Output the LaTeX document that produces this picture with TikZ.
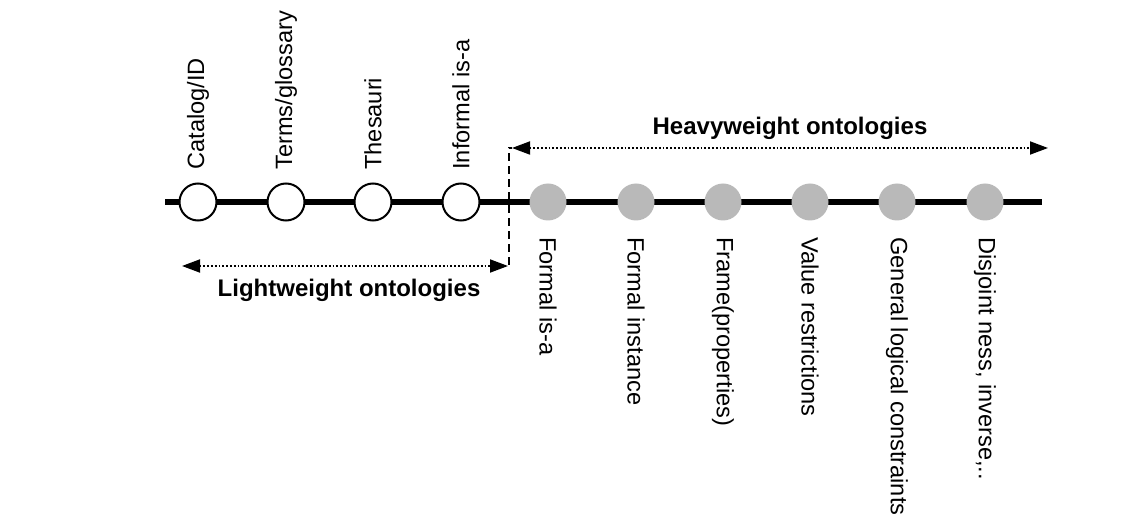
\documentclass[tikz,border=0pt]{standalone}
\usepackage{fontspec}
\setmainfont{Liberation Sans}
\usetikzlibrary{arrows.meta}
\begin{document}
\begin{tikzpicture}[x=0.5pt,y=-0.5pt,
  every node/.style={font=\fontsize{11.8}{14}\selectfont},
  opendot/.style={circle,draw=black,line width=1pt,fill=white,minimum size=18.5pt,inner sep=0pt},
  graydot/.style={circle,fill=gray!55!white,minimum size=18.5pt,inner sep=0pt},
  uplabel/.style={rotate=90,anchor=west,inner sep=0pt},
  downlabel/.style={rotate=-90,anchor=west,inner sep=0pt},
  rangearrow/.style={line width=0.9pt,densely dotted,{Triangle[length=9pt,width=6.5pt]}-{Triangle[length=9pt,width=6.5pt]}},
  title/.style={font=\fontsize{12}{14}\selectfont\bfseries}]
\useasboundingbox (0,0) rectangle (1140,518);
\coordinate (ls) at (165,202);
\coordinate (le) at (1042,202);
\draw[line width=3.2pt] (ls) -- (le);
% open circles
\node[opendot] (c1) at (198,202) {};
\node[opendot] (c2) at (286,202) {};
\node[opendot] (c3) at (373,202) {};
\node[opendot] (c4) at (461,202) {};
% gray circles
\node[graydot] (g1) at (548,202) {};
\node[graydot] (g2) at (636,202) {};
\node[graydot] (g3) at (723,202) {};
\node[graydot] (g4) at (810,202) {};
\node[graydot] (g5) at (897,202) {};
\node[graydot] (g6) at (985,202) {};
% labels above
\node[uplabel] (t1) at (198,170) {Catalog/ID};
\node[uplabel] (t2) at (286,170) {Terms/glossary};
\node[uplabel] (t3) at (373,170) {Thesauri};
\node[uplabel] (t4) at (461,170) {Informal is-a};
% labels below
\node[downlabel] (b1) at (548,237) {Formal is-a};
\node[downlabel] (b2) at (636,237) {Formal instance};
\node[downlabel] (b3) at (723,237) {Frame(properties)};
\node[downlabel] (b4) at (810,237) {Value restrictions};
\node[downlabel] (b5) at (897,237) {General logical constraints};
\node[downlabel] (b6) at (985,237) {Disjoint ness, inverse,..};
% divider
\coordinate (htip) at (512,148);
\coordinate (dbot) at (509,265);
\draw[line width=0.8pt,dash pattern=on 4pt off 2.5pt] (dbot) |- (htip);
% heavyweight range
\coordinate (hend) at (1048,148);
\draw[rangearrow] (htip) -- (hend);
\node[title] (ht) at (790,128) {Heavyweight ontologies};
% lightweight range
\coordinate (lstart) at (182,266);
\coordinate (lend) at (508,266);
\draw[rangearrow] (lstart) -- (lend);
\node[title] (lt) at (349,290) {Lightweight ontologies};
\end{tikzpicture}
\end{document}
